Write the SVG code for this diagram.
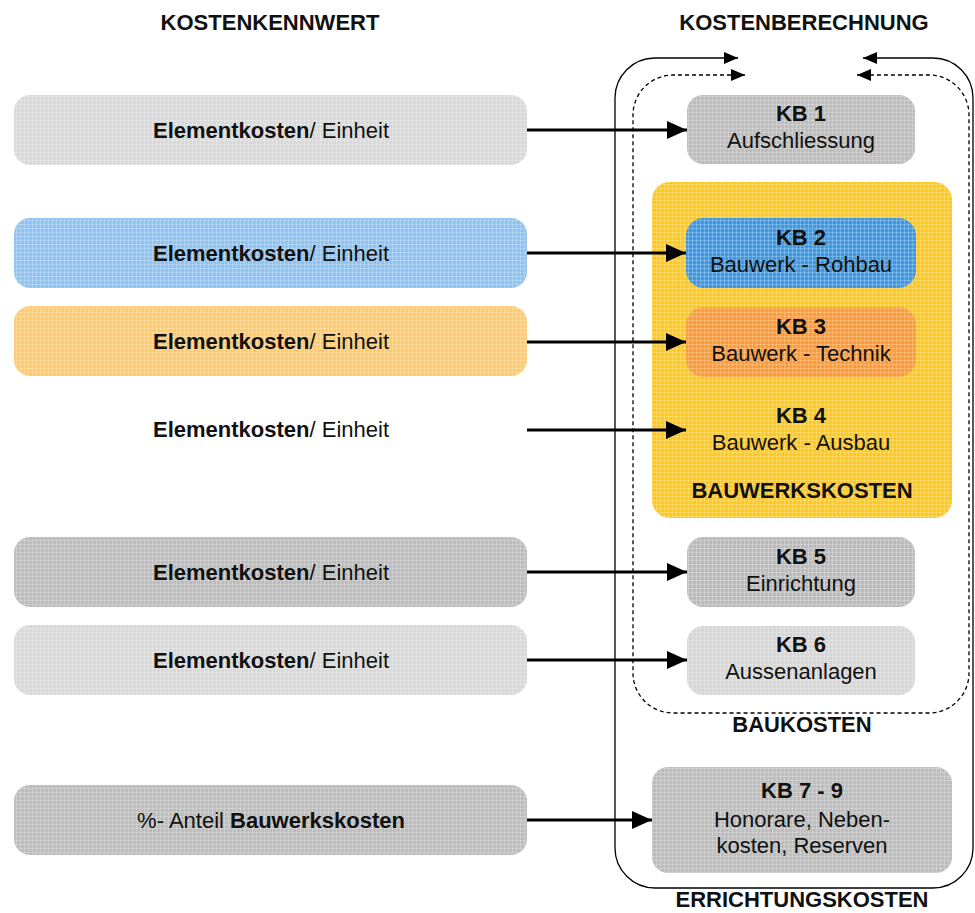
<svg xmlns="http://www.w3.org/2000/svg" width="975" height="913" viewBox="0 0 975 913">
  <style>
    text { font-family: "Liberation Sans", Arial, sans-serif; font-size: 22px; fill: #111; text-anchor: middle; }
    .b { font-weight: bold; }
    .box { stroke: none; }
    .tex { fill: url(#grid); stroke: none; }
    .link { fill: none; stroke: #000; stroke-width: 3; marker-end: url(#head); }
    .frame { fill: none; stroke: #000; stroke-width: 1.3; }
    .dash { stroke-dasharray: 4 3; }
  </style>
  <defs>
    <marker id="head" viewBox="0 0 20 18" refX="20" refY="9" markerWidth="20" markerHeight="18" markerUnits="userSpaceOnUse" orient="auto">
      <path d="M0,0 L20,9 L0,18 Z" fill="#000"/>
    </marker>
    <marker id="small" viewBox="0 0 14 12" refX="14" refY="6" markerWidth="14" markerHeight="12" markerUnits="userSpaceOnUse" orient="auto-start-reverse">
      <path d="M0,0 L14,6 L0,12 Z" fill="#000"/>
    </marker>
    <!-- fine screen texture laid over the filled boxes -->
    <pattern id="grid" width="4" height="4" patternUnits="userSpaceOnUse">
      <path d="M0,0.5 H4 M0.5,0 V4" stroke="#ffffff" stroke-opacity="0.22" stroke-width="1"/>
    </pattern>
  </defs>

  <rect width="975" height="913" fill="#ffffff"/>

  <!-- column headings -->
  <g id="headings">
    <text class="b" x="270" y="30">KOSTENKENNWERT</text>
    <text class="b" x="804" y="30">KOSTENBERECHNUNG</text>
  </g>

  <!-- enclosing frames -->
  <g id="frames">
    <path class="frame" marker-start="url(#small)" marker-end="url(#small)"
          d="M738,58 H655 A40,40 0 0 0 615,98 V848 A40,40 0 0 0 655,888 H933 A40,40 0 0 0 973,848 V98 A40,40 0 0 0 933,58 H863"/>
    <path class="frame dash" marker-start="url(#small)" marker-end="url(#small)"
          d="M745,75 H673 A40,40 0 0 0 633,115 V673 A40,40 0 0 0 673,713 H929 A40,40 0 0 0 969,673 V115 A40,40 0 0 0 929,75 H857"/>
    <text class="b" x="802" y="732">BAUKOSTEN</text>
    <text class="b" x="802" y="907">ERRICHTUNGSKOSTEN</text>
  </g>

  <!-- left column: cost indicators -->
  <g id="kw1">
    <rect class="box" x="14" y="95" width="513" height="70" rx="16" fill="#d9d9d9"/>
    <rect class="tex" x="14" y="95" width="513" height="70" rx="16"/>
    <text x="271" y="138"><tspan class="b">Elementkosten</tspan>/ Einheit</text>
  </g>
  <g id="kw2">
    <rect class="box" x="14" y="218" width="513" height="70" rx="16" fill="#8fc3f1"/>
    <rect class="tex" x="14" y="218" width="513" height="70" rx="16"/>
    <text x="271" y="261"><tspan class="b">Elementkosten</tspan>/ Einheit</text>
  </g>
  <g id="kw3">
    <rect class="box" x="14" y="306" width="513" height="70" rx="16" fill="#ffcb6c"/>
    <rect class="tex" x="14" y="306" width="513" height="70" rx="16"/>
    <text x="271" y="349"><tspan class="b">Elementkosten</tspan>/ Einheit</text>
  </g>
  <g id="kw4">
    <text x="271" y="437"><tspan class="b">Elementkosten</tspan>/ Einheit</text>
  </g>
  <g id="kw5">
    <rect class="box" x="14" y="537" width="513" height="70" rx="16" fill="#bdbdbd"/>
    <rect class="tex" x="14" y="537" width="513" height="70" rx="16"/>
    <text x="271" y="580"><tspan class="b">Elementkosten</tspan>/ Einheit</text>
  </g>
  <g id="kw6">
    <rect class="box" x="14" y="625" width="513" height="70" rx="16" fill="#d9d9d9"/>
    <rect class="tex" x="14" y="625" width="513" height="70" rx="16"/>
    <text x="271" y="668"><tspan class="b">Elementkosten</tspan>/ Einheit</text>
  </g>
  <g id="kw7">
    <rect class="box" x="14" y="785" width="513" height="70" rx="16" fill="#bdbdbd"/>
    <rect class="tex" x="14" y="785" width="513" height="70" rx="16"/>
    <text x="271" y="828">%- Anteil <tspan class="b">Bauwerkskosten</tspan></text>
  </g>

  <!-- right column: cost groups -->
  <g id="kb1">
    <rect class="box" x="687" y="95" width="228" height="69" rx="16" fill="#bdbdbd"/>
    <rect class="tex" x="687" y="95" width="228" height="69" rx="16"/>
    <text class="b" x="801" y="121">KB 1</text>
    <text x="801" y="148">Aufschliessung</text>
  </g>
  <g id="bauwerk">
    <rect class="box" x="652" y="182" width="300" height="336" rx="18" fill="#ffc81e"/>
    <rect class="tex" x="652" y="182" width="300" height="336" rx="18"/>
    <text class="b" x="802" y="498">BAUWERKSKOSTEN</text>
  </g>
  <g id="kb2">
    <rect class="box" x="686" y="218" width="230" height="70" rx="18" fill="#3e98e2"/>
    <rect class="tex" x="686" y="218" width="230" height="70" rx="18"/>
    <text class="b" x="801" y="245">KB 2</text>
    <text x="801" y="272">Bauwerk - Rohbau</text>
  </g>
  <g id="kb3">
    <rect class="box" x="686" y="307" width="230" height="70" rx="18" fill="#ff9a35"/>
    <rect class="tex" x="686" y="307" width="230" height="70" rx="18"/>
    <text class="b" x="801" y="334">KB 3</text>
    <text x="801" y="361">Bauwerk - Technik</text>
  </g>
  <g id="kb4">
    <text class="b" x="801" y="423">KB 4</text>
    <text x="801" y="450">Bauwerk - Ausbau</text>
  </g>
  <g id="kb5">
    <rect class="box" x="687" y="537" width="228" height="70" rx="16" fill="#bbbbbb"/>
    <rect class="tex" x="687" y="537" width="228" height="70" rx="16"/>
    <text class="b" x="801" y="564">KB 5</text>
    <text x="801" y="591">Einrichtung</text>
  </g>
  <g id="kb6">
    <rect class="box" x="687" y="626" width="228" height="69" rx="16" fill="#d6d6d6"/>
    <rect class="tex" x="687" y="626" width="228" height="69" rx="16"/>
    <text class="b" x="801" y="652">KB 6</text>
    <text x="801" y="679">Aussenanlagen</text>
  </g>
  <g id="kb79">
    <rect class="box" x="652" y="767" width="300" height="106" rx="16" fill="#bdbdbd"/>
    <rect class="tex" x="652" y="767" width="300" height="106" rx="16"/>
    <text class="b" x="802" y="798">KB 7 - 9</text>
    <text x="802" y="827">Honorare, Neben-</text>
    <text x="802" y="853">kosten, Reserven</text>
  </g>

  <!-- connectors -->
  <g id="connectors">
    <path class="link" d="M527,130 H687"/>
    <path class="link" d="M527,253 H686"/>
    <path class="link" d="M527,342 H686"/>
    <path class="link" d="M527,430 H686"/>
    <path class="link" d="M527,572 H687"/>
    <path class="link" d="M527,660 H687"/>
    <path class="link" d="M527,820 H652"/>
  </g>
</svg>
